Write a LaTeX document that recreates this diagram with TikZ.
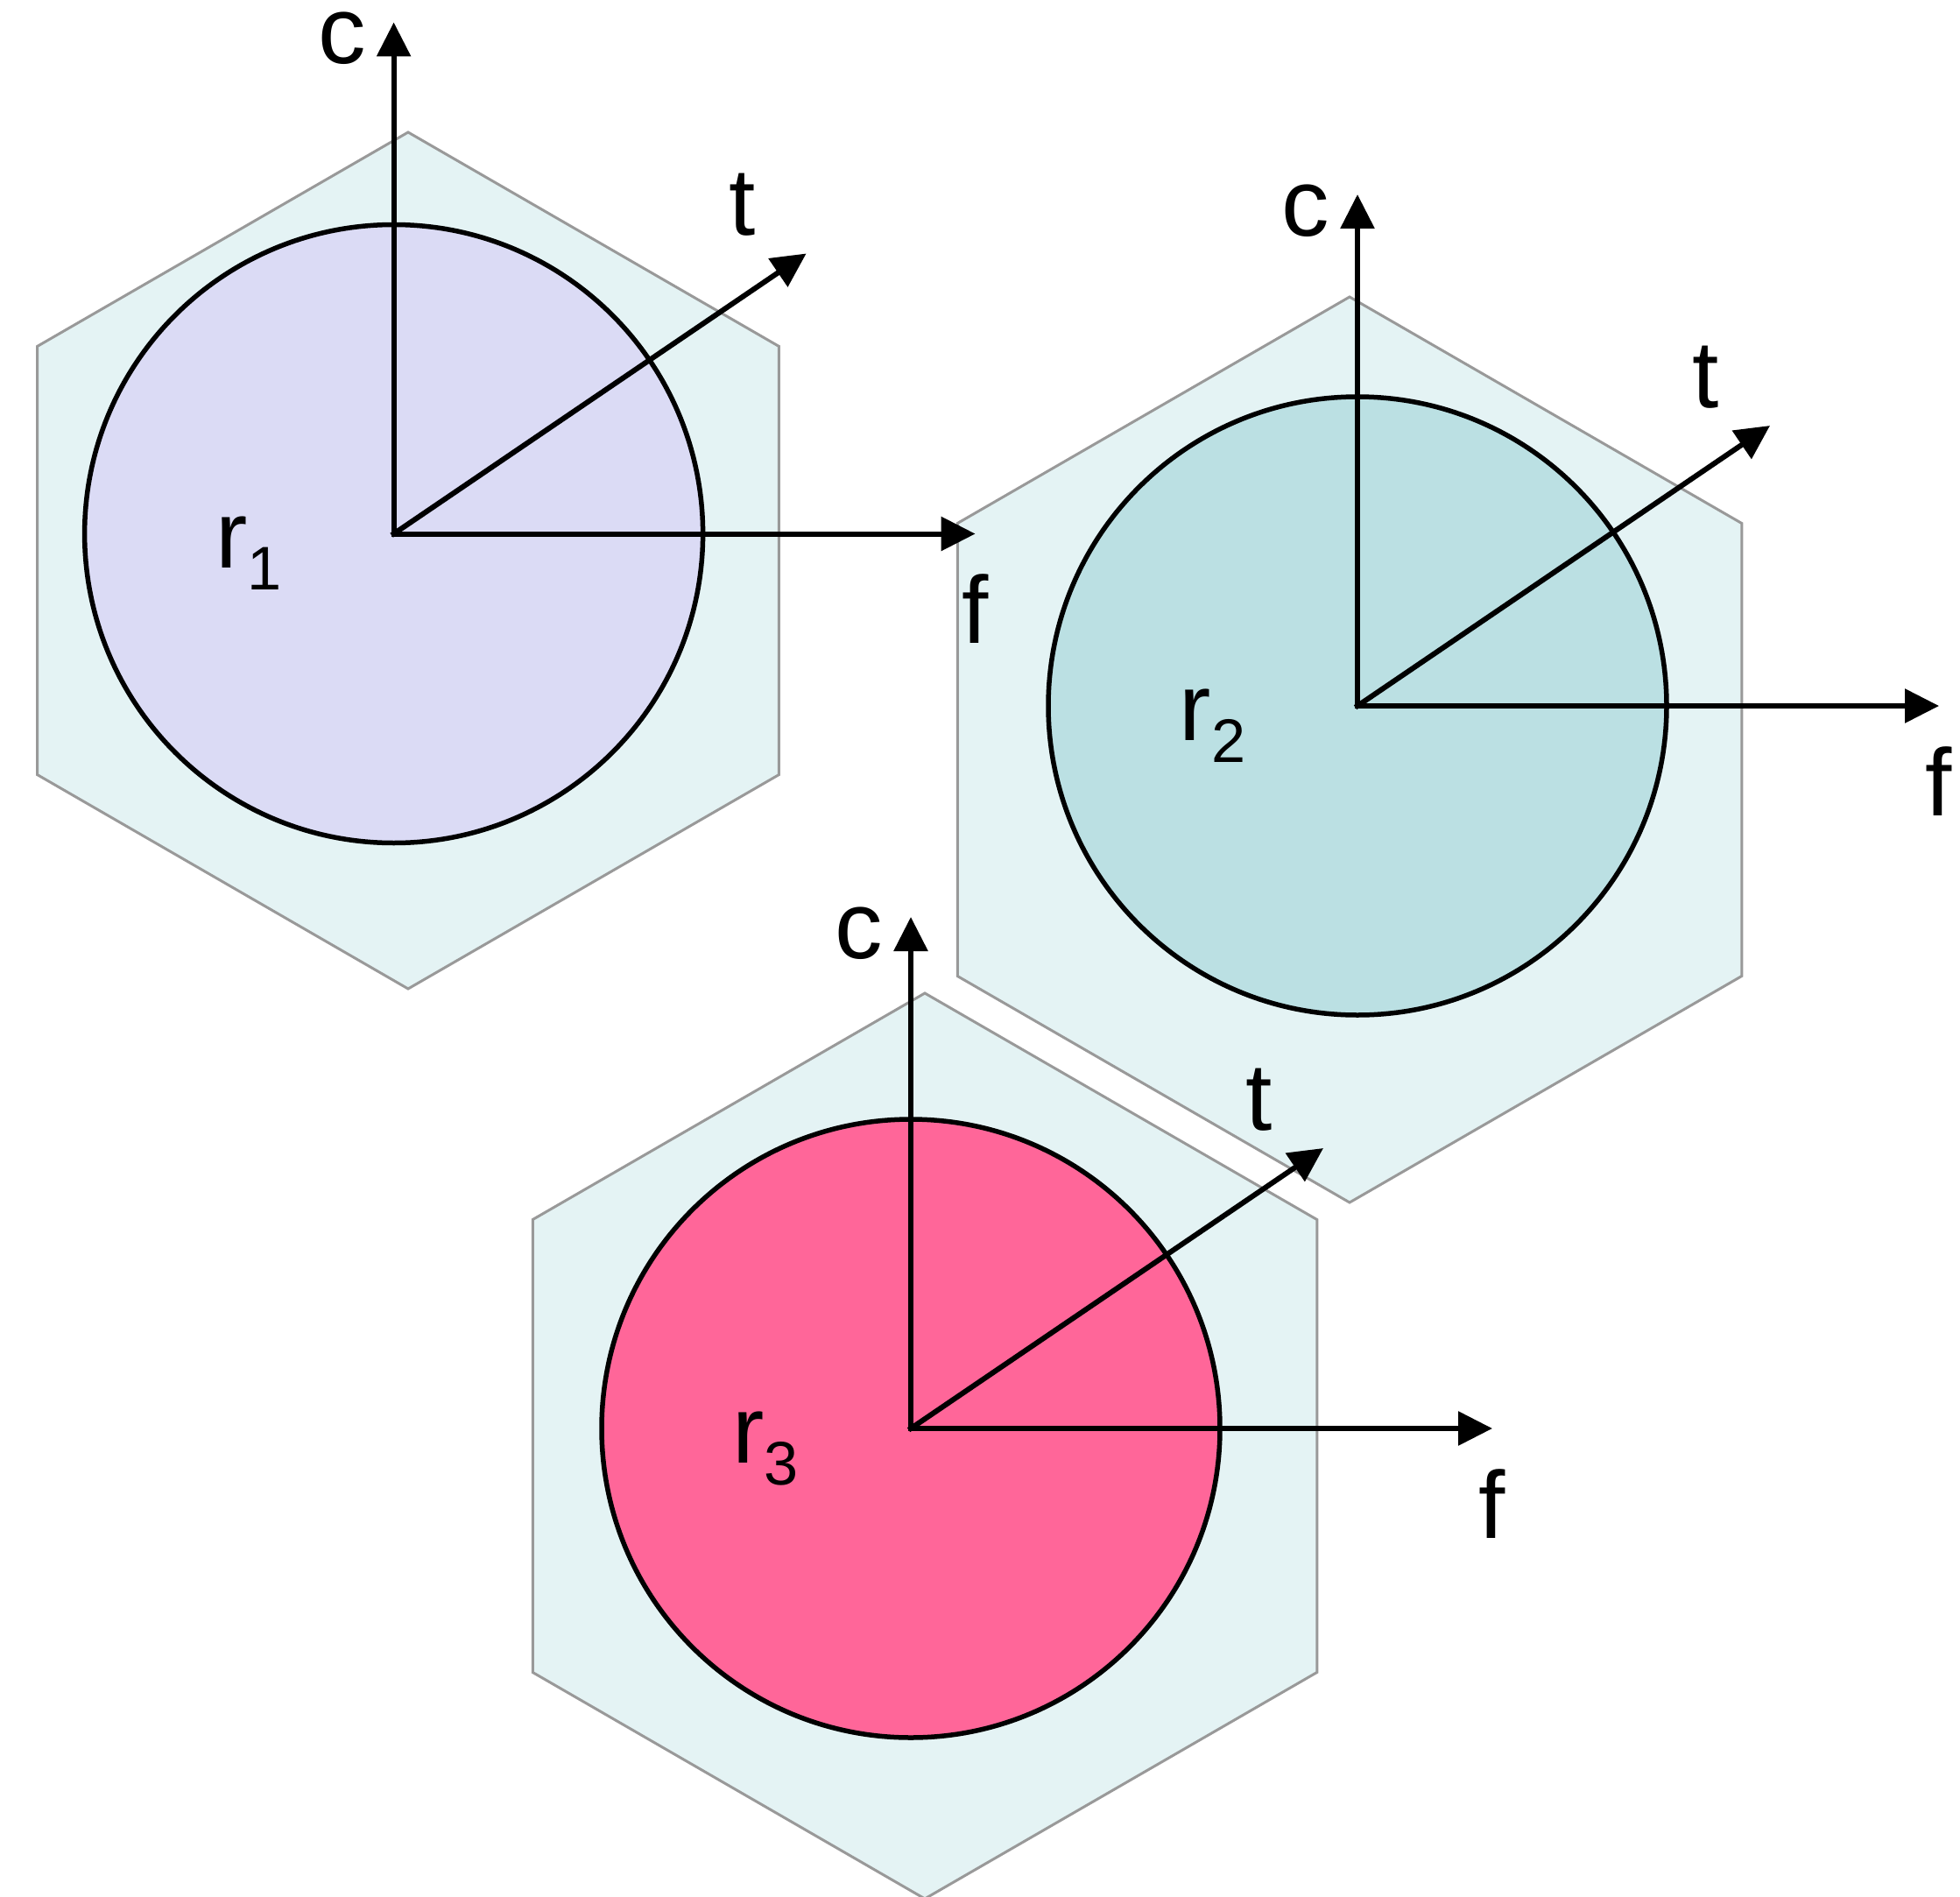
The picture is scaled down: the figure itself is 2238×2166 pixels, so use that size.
\documentclass[tikz,border=0pt]{standalone}
\usepackage{fontspec}
\setmainfont{Liberation Sans}
\usepackage{xcolor}
\definecolor{hexfill}{HTML}{E4F3F4}
\definecolor{hexline}{HTML}{999999}
\definecolor{radone}{HTML}{DBDBF5}
\definecolor{radtwo}{HTML}{BBE0E3}
\definecolor{radthree}{HTML}{FF6699}
\usetikzlibrary{shapes.geometric, arrows.meta, positioning}

\begin{document}
\begin{tikzpicture}[
  x=0.1mm, y=-0.1mm,
  hexa/.style={regular polygon, regular polygon sides=6,
    shape border rotate=30, draw=hexline, fill=hexfill,
    line width=0.3mm, inner sep=0pt},
  radio/.style={circle, draw=black, line width=0.55mm,
    minimum size=70.6mm, inner sep=0pt},
  arr/.style={-{Triangle[length=3.9mm, width=3.8mm]},
    line width=0.6mm, line cap=rect},
  lbl/.style={font=\fontsize{31}{37}\selectfont, inner sep=0pt,
    anchor=base},
  rlbl/.style={font=\fontsize{31}{37}\selectfont, inner sep=0pt,
    anchor=base west}
]
  \useasboundingbox (0,0) rectangle (2238,2166);

  % cells
  \node[hexa, minimum size=97.8mm] (hex1) at (466,640) {};
  \node[hexa, minimum size=103.4mm] (hex2) at (1541,856) {};
  \node[hexa, minimum size=103.4mm] (hex3) at (1056,1651) {};

  % radios
  \node[radio, fill=radone] (rad1) at (449.6,609.5) {};
  \node[radio, fill=radtwo] (rad2) at (1550,806) {};
  \node[radio, fill=radthree] (rad3) at (1040,1631) {};

  % axes of radio 1
  \coordinate (c1) at (449.6,25.5);
  \coordinate (t1) at (920.6,289.5);
  \coordinate (f1) at (1113.6,609.5);
  \draw[arr] (rad1.center) -- (c1);
  \draw[arr] (rad1.center) -- (t1);
  \draw[arr] (rad1.center) -- (f1);

  % axes of radio 2
  \coordinate (c2) at (1550,222);
  \coordinate (t2) at (2021,486);
  \coordinate (f2) at (2214,806);
  \draw[arr] (rad2.center) -- (c2);
  \draw[arr] (rad2.center) -- (t2);
  \draw[arr] (rad2.center) -- (f2);

  % axes of radio 3
  \coordinate (c3) at (1040,1047);
  \coordinate (t3) at (1511,1311);
  \coordinate (f3) at (1704,1631);
  \draw[arr] (rad3.center) -- (c3);
  \draw[arr] (rad3.center) -- (t3);
  \draw[arr] (rad3.center) -- (f3);

  % labels
  \node[lbl] (lc1) at (390.6,72.5) {c};
  \node[lbl] (lt1) at (847.6,268.5) {t};
  \node[lbl] (lf1) at (1113.6,734.5) {f};
  \node[rlbl] (lr1) at (245.6,648.5)
    {r\raisebox{-2.5mm}{\fontsize{20}{24}\selectfont 1}};

  \node[lbl] (lc2) at (1491,269) {c};
  \node[lbl] (lt2) at (1948,465) {t};
  \node[lbl] (lf2) at (2214,931) {f};
  \node[rlbl] (lr2) at (1346,845)
    {r\raisebox{-2.5mm}{\fontsize{20}{24}\selectfont 2}};

  \node[lbl] (lc3) at (981,1094) {c};
  \node[lbl] (lt3) at (1438,1290) {t};
  \node[lbl] (lf3) at (1704,1756) {f};
  \node[rlbl] (lr3) at (836,1670)
    {r\raisebox{-2.5mm}{\fontsize{20}{24}\selectfont 3}};
\end{tikzpicture}
\end{document}
